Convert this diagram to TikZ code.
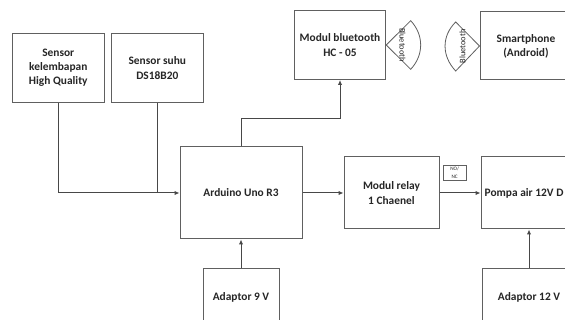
\documentclass[tikz,border=0pt]{standalone}
\usepackage{fontspec}
\setmainfont{Carlito}
\usetikzlibrary{arrows.meta}
\definecolor{boxline}{HTML}{606060}
\definecolor{wire}{HTML}{484848}
\definecolor{ink}{HTML}{262626}
\tikzset{
  blockbox/.style={draw=boxline,line width=1pt,fill=white,inner sep=0pt,align=center,text=ink,font=\fontsize{11.4}{14.2}\selectfont\bfseries},
  wirearrow/.style={draw=wire,line width=1pt,-{Latex[length=5pt,width=4.5pt]}},
  wireplain/.style={draw=wire,line width=1pt},
  lens/.style={draw=boxline,line width=0.8pt,line join=miter},
  lenstext/.style={text=ink,font=\fontsize{8.4}{9}\selectfont,inner sep=0pt},
  smalltag/.style={draw=boxline,line width=0.6pt,inner sep=0pt,align=center,text=ink,font=\fontsize{5.2}{8}\selectfont}
}
\begin{document}
\begin{tikzpicture}[x=1pt,y=-1pt]
\useasboundingbox (0,0) rectangle (565,320);
\clip (0,0) rectangle (565,320);
\fill[white] (0,0) rectangle (565,320);
\node[blockbox,minimum width=91.5pt,minimum height=68.5pt] (hum) at (58.3,68) {Sensor\\kelembapan\\High Quality};
\node[blockbox,minimum width=91.5pt,minimum height=68.5pt] (temp) at (157.3,68) {Sensor suhu\\DS18B20};
\node[blockbox,minimum width=122pt,minimum height=92pt] (uno) at (241,193) {Arduino Uno R3};
\node[blockbox,minimum width=76pt,minimum height=56pt] (ad9) at (241,297) {Adaptor 9 V};
\node[blockbox,minimum width=91.5pt,minimum height=69pt] (bt) at (340,45) {Modul bluetooth\\HC - 05};
\node[blockbox,minimum width=92pt,minimum height=68pt] (phone) at (526,46) {Smartphone\\(Android)};
\node[blockbox,minimum width=95pt,minimum height=72pt] (relay) at (391.5,193) {Modul relay\\1 Chaenel};
\node[blockbox,minimum width=96pt,minimum height=72pt] (pump) at (529,193) {};
\node[text=ink,font=\fontsize{11.4}{14.2}\selectfont\bfseries,anchor=west,inner sep=0pt] (pumptext) at (484.5,193) {Pompa air 12V D};
\node[blockbox,minimum width=94pt,minimum height=56pt] (ad12) at (529,297) {Adaptor 12 V};
\node[smalltag,minimum width=23.5pt,minimum height=15.5pt] (tag) at (454.7,173) {NO/\\NC};
\coordinate (join) at (temp.south |- uno.west);
\coordinate (btup) at (bt.south |- 0,119);
\coordinate (unoup) at (uno.north |- btup);
\draw[wireplain] (hum.south) |- (join);
\draw[wireplain] (temp.south) -- (join);
\draw[wirearrow] (join) -- (uno.west);
\draw[wirearrow] (ad9.north) -- (uno.south);
\draw[wirearrow] (uno.north) -- (unoup) -- (btup) -- (bt.south);
\draw[wirearrow] (uno.east |- relay.west) -- (relay.west);
\draw[wirearrow] (relay.east) -- (pump.west);
\draw[wirearrow] (ad12.north) -- (pump.south);
\draw[lens] (bt.east) -- (410.7,20.7) .. controls (424,35) and (424,55) .. (410.7,69.3) -- cycle;
\draw[lens] (phone.west) -- (455.7,22) .. controls (441.5,36) and (441.5,56) .. (455.7,71) -- cycle;
\node[lenstext,rotate=-90] (btl) at (402.5,45) {Bluetooth};
\node[lenstext,rotate=90] (btr) at (462.5,46.5) {Bluetooth};
\end{tikzpicture}
\end{document}
